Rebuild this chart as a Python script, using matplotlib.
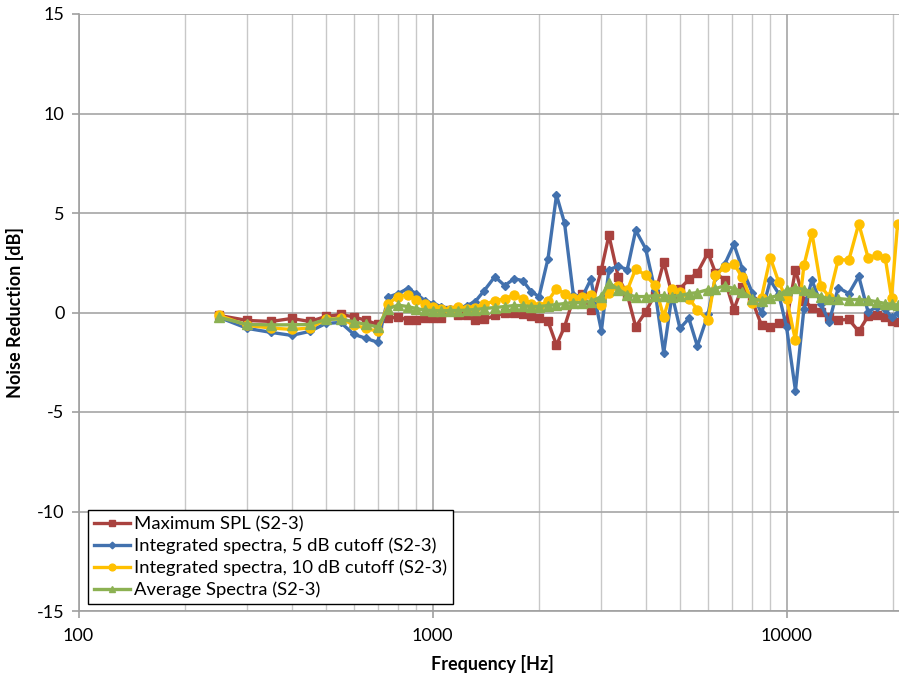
import numpy as np
import matplotlib
matplotlib.use('Agg')
import matplotlib.pyplot as plt
from matplotlib.ticker import LogLocator, FixedLocator, NullFormatter

plt.rcParams['font.family'] = ['Lato', 'DejaVu Sans']
plt.rcParams['axes.unicode_minus'] = False

# frequencies [Hz]
freq = [250, 300, 350, 400, 450, 500, 550, 600, 650, 700, 750, 800, 850, 900, 950, 1000,
        1060, 1120, 1180, 1250, 1320, 1400, 1500, 1600, 1700, 1800, 1900, 2000,
        2120, 2240, 2360, 2500, 2650, 2800, 3000, 3150, 3350, 3550, 3750, 4000,
        4250, 4500, 4750, 5000, 5300, 5600, 6000, 6300, 6700, 7100, 7500, 8000,
        8500, 9000, 9500, 10000, 10600, 11200, 11800, 12500, 13200, 14000, 15000, 16000,
        17000, 18000, 19000, 19800, 20600]

max_spl = [-0.15, -0.4, -0.45, -0.3, -0.45, -0.2, -0.1, -0.22, -0.4, -0.6, -0.3, -0.22, -0.38, -0.4, -0.3, -0.3,
           -0.3, 0.15, -0.13, -0.13, -0.38, -0.35, -0.15, -0.05, 0.0, -0.08, -0.2, -0.3,
           -0.45, -1.64, -0.72, 0.7, 0.95, 0.15, 2.16, 3.88, 1.76, 0.9, -0.72, 0.03,
           0.9, 2.54, 0.9, 1.2, 1.66, 2.0, 3.0, 2.0, 1.62, 0.15, 1.29, 0.6,
           -0.64, -0.75, -0.52, -0.45, 2.16, 0.6, 0.25, 0.05, -0.25, -0.38, -0.35, -0.95,
           -0.18, -0.13, -0.25, -0.45, -0.5]

int_5db = [-0.25, -0.8, -1.0, -1.15, -0.95, -0.55, -0.5, -1.1, -1.3, -1.5, 0.78, 0.95, 1.2, 0.95, 0.6, 0.45,
           0.3, 0.2, 0.2, 0.35, 0.55, 1.1, 1.8, 1.35, 1.7, 1.6, 1.05, 0.8,
           2.71, 5.9, 4.5, 0.87, 0.79, 1.66, -0.92, 2.16, 2.32, 2.16, 4.13, 3.21,
           1.12, -2.03, 0.9, -0.8, -0.3, -1.69, -0.1, 1.8, 2.45, 3.43, 2.2, 1.0,
           -0.05, 1.62, 0.95, -0.72, -3.93, 0.2, 1.62, 0.45, -0.47, 1.25, 0.95, 1.82,
           0.03, 0.28, 0.2, -0.25, -0.05]

int_10db = [-0.15, -0.65, -0.78, -0.85, -0.78, -0.35, -0.3, -0.63, -0.8, -0.95, 0.45, 0.8, 0.9, 0.62, 0.45, 0.3,
            0.2, 0.12, 0.3, 0.2, 0.25, 0.42, 0.58, 0.7, 0.87, 0.7, 0.45, 0.32,
            0.58, 1.2, 0.95, 0.75, 0.79, 0.87, 0.37, 1.0, 1.32, 1.12, 2.2, 1.87,
            1.37, -0.22, 1.2, 1.04, 0.7, 0.15, -0.38, 1.87, 2.3, 2.46, 1.76, 0.5,
            0.75, 2.76, 1.54, 0.7, -1.39, 2.37, 4.0, 1.32, 0.79, 2.66, 2.63, 4.46,
            2.76, 2.88, 2.76, 0.75, 4.46]

avg_spec = [-0.25, -0.6, -0.62, -0.62, -0.6, -0.35, -0.32, -0.47, -0.6, -0.72, 0.2, 0.37, 0.3, 0.2, 0.12, 0.1,
            0.08, 0.1, 0.1, 0.12, 0.15, 0.2, 0.25, 0.3, 0.35, 0.35, 0.3, 0.3,
            0.35, 0.4, 0.45, 0.5, 0.5, 0.55, 0.8, 1.5, 1.15, 0.9, 0.8, 0.8,
            0.85, 0.85, 0.8, 0.85, 0.95, 1.0, 1.15, 1.2, 1.35, 1.2, 1.05, 0.7,
            0.6, 0.75, 0.87, 1.12, 1.25, 1.15, 1.04, 0.79, 0.7, 0.7, 0.65, 0.65,
            0.62, 0.54, 0.45, 0.42, 0.37]

labels = ['Maximum SPL (S2-3)',
          'Integrated spectra, 5 dB cutoff (S2-3)',
          'Integrated spectra, 10 dB cutoff (S2-3)',
          'Average Spectra (S2-3)']

W, H = 899, 677
fig = plt.figure(figsize=(W / 100, H / 100), dpi=100)
# axes runs past the right edge of the picture, like the cropped original
left = 78.5 / W
bottom = (H - 611) / H
height = (611 - 14) / H
width = 354 * np.log10(250) / W
ax = fig.add_axes([left, bottom, width, height])

ax.plot(freq, max_spl, color='#A9423F', lw=2.4, marker='s', ms=5.5, label=labels[0])
ax.plot(freq, int_5db, color='#4271AE', lw=2.4, marker='D', ms=4.5, label=labels[1])
ax.plot(freq, int_10db, color='#FFC000', lw=2.4, marker='o', ms=6.5, label=labels[2])
ax.plot(freq, avg_spec, color='#8CB152', lw=2.4, marker='^', ms=6.5, label=labels[3])

ax.set_xscale('log')
ax.set_xlim(100, 25000)
ax.set_ylim(-15, 15)
ax.set_yticks(np.arange(-15, 16, 5))
ax.xaxis.set_major_locator(FixedLocator([100, 1000, 10000]))
ax.xaxis.set_minor_locator(LogLocator(base=10, subs=np.arange(2, 10)))
ax.xaxis.set_minor_formatter(NullFormatter())
ax.set_xticklabels(['100', '1000', '10000'])

ax.grid(True, which='major', color='#A6A6A6', lw=1.2)
ax.grid(True, which='minor', axis='x', color='#C8C8C8', lw=1.0)
ax.set_axisbelow(True)

for s in ['top', 'right']:
    ax.spines[s].set_visible(False)
for s in ['left', 'bottom']:
    ax.spines[s].set_color('#A0A0A0')
    ax.spines[s].set_linewidth(1.2)
ax.tick_params(axis='both', which='major', length=5, width=1.2, color='#A0A0A0',
               labelsize=13, pad=4)
ax.tick_params(axis='y', pad=5)
ax.tick_params(axis='x', pad=7)
ax.tick_params(axis='x', which='minor', length=0)

ax.set_ylabel('Noise Reduction [dB]', fontsize=13, fontweight='bold', labelpad=9)
fig.text(492 / W, 1 - 664 / H, 'Frequency [Hz]', fontsize=13, fontweight='bold',
         ha='center', va='center')

leg = ax.legend(loc='lower left', bbox_to_anchor=(88 / W, 1 - 604 / H),
                bbox_transform=fig.transFigure, borderaxespad=0, fancybox=False,
                framealpha=1, edgecolor='black', fontsize=13.3, handlelength=2.0,
                handletextpad=0.2, borderpad=0.3, labelspacing=0.3, markerscale=0.75)
leg.get_frame().set_linewidth(1.0)

fig.savefig('out.png', dpi=100)
